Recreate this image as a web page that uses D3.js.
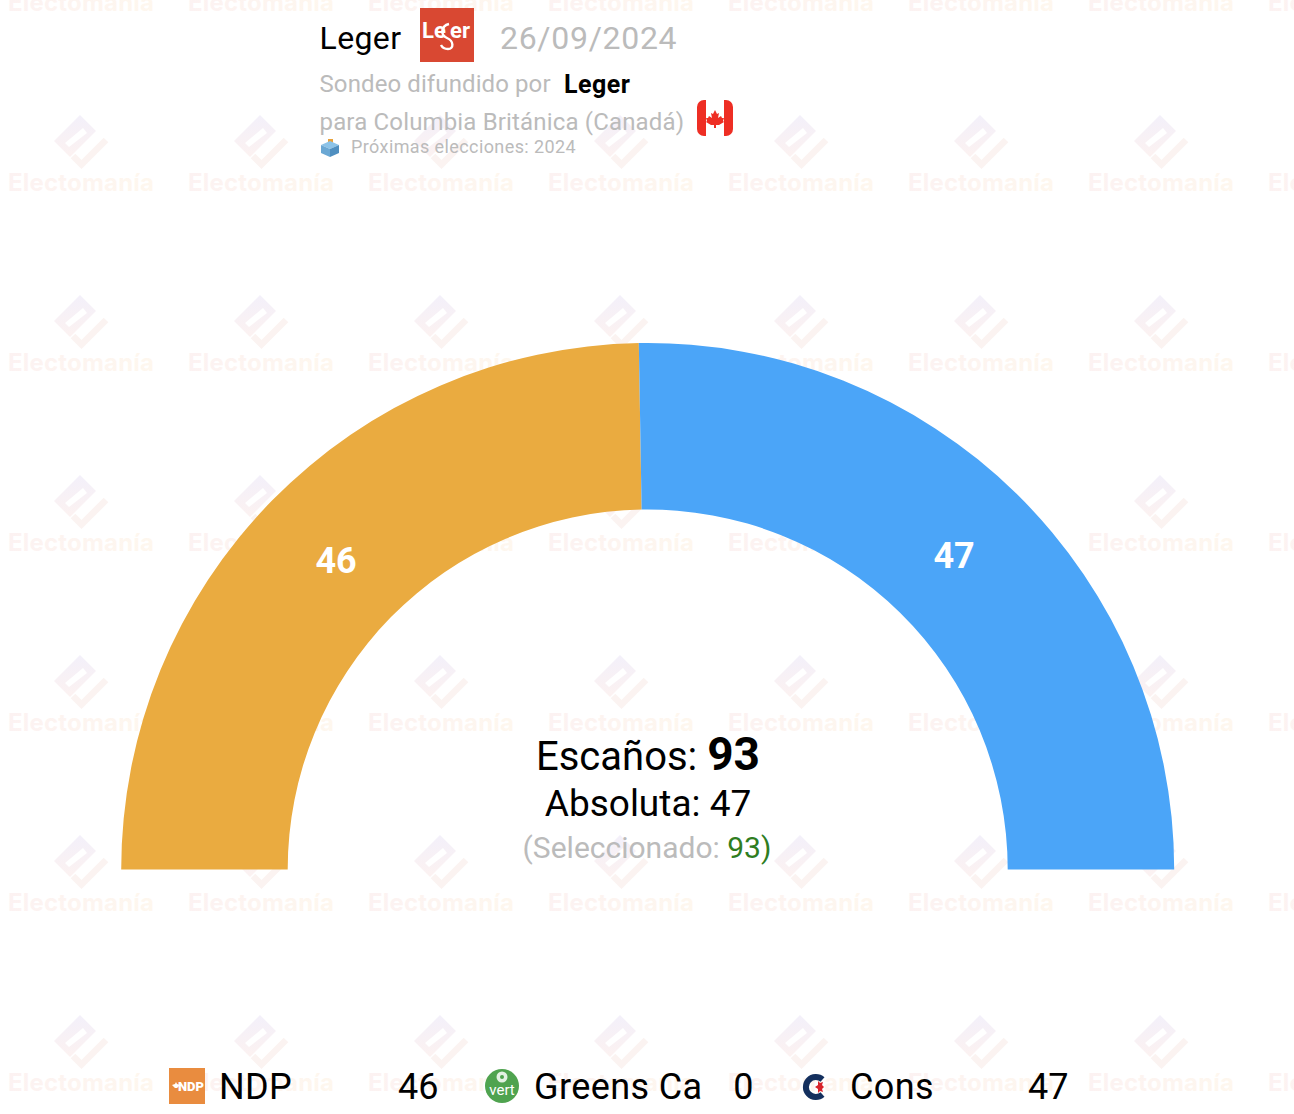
<!DOCTYPE html>
<html>
<head>
<meta charset="utf-8">
<script src="https://cdn.jsdelivr.net/npm/d3@7"></script>
<style>
  html, body { margin: 0; padding: 0; background: #fff; }
  svg { display: block; }
  text { font-family: Roboto, sans-serif; }
</style>
</head>
<body>
<div id="chart"></div>
<script>
var parties = ["NDP", "Greens Ca", "Cons"];
var seats = [46, 0, 47];
var colors = ["#EAAB40", "#4BA64B", "#4BA5F8"];
var totalSeats = 93;
var majority = 47;
var selected = 93;
var pollster = "Leger";
var pollDate = "26/09/2024";
var regionLine = "para Columbia Británica (Canadá)";
var nextElection = "Próximas elecciones: 2024";

var width = 1294, height = 1114;
var cx = 647.7, cy = 869.5, outerR = 526.5, innerR = 360;

var svg = d3.select("#chart").append("svg")
  .attr("width", width)
  .attr("height", height);

var defs = svg.append("defs");
var textGrad = defs.append("linearGradient").attr("id", "wmText");
textGrad.append("stop").attr("offset", "0").attr("stop-color", "#fcf2f2");
textGrad.append("stop").attr("offset", "1").attr("stop-color", "#fef7ee");
var iconGrad = defs.append("linearGradient").attr("id", "wmIcon")
  .attr("x1", 0).attr("y1", 0).attr("x2", 0).attr("y2", 1);
iconGrad.append("stop").attr("offset", "0").attr("stop-color", "#f3f0fa");
iconGrad.append("stop").attr("offset", "1").attr("stop-color", "#fcf2f1");

// watermark tiles
var tiles = [];
d3.range(-1, 7).forEach(function(row) {
  d3.range(0, 8).forEach(function(col) {
    tiles.push({x: col * 180, y: row * 180 + 100});
  });
});
var wm = svg.append("g").selectAll("g")
  .data(tiles)
  .enter().append("g")
  .attr("transform", function(d) { return "translate(" + d.x + "," + d.y + ")"; });
wm.append("path")
  .attr("fill", "url(#wmIcon)")
  .attr("fill-rule", "evenodd")
  .attr("d", "M80,15 L96,31 L70,57 L54,41 Z M83,28 L65,43 L69,47 L87,33 Z");
wm.append("path")
  .attr("fill", "none")
  .attr("stroke", "#fbf3f1")
  .attr("stroke-width", 6.5)
  .attr("d", "M106,40 L81.5,64.5 L73,56");
wm.append("text")
  .attr("x", 8)
  .attr("y", 91)
  .attr("font-size", 24)
  .attr("font-weight", 700)
  .attr("letter-spacing", 0.2)
  .attr("fill", "url(#wmText)")
  .style("font-family", "Inter, sans-serif")
  .text("Electomanía");

// hemicycle
var slices = d3.pie()
  .sort(null)
  .startAngle(-Math.PI / 2)
  .endAngle(Math.PI / 2)(seats);
var arc = d3.arc().innerRadius(innerR).outerRadius(outerR);
var labelArc = d3.arc().innerRadius(437).outerRadius(437);

var hemi = svg.append("g").attr("transform", "translate(" + cx + "," + cy + ")");
hemi.selectAll("path")
  .data(slices)
  .enter().append("path")
  .attr("d", arc)
  .attr("fill", function(d, i) { return colors[i]; });
hemi.selectAll("text")
  .data(slices.filter(function(d) { return d.value > 0; }))
  .enter().append("text")
  .attr("transform", function(d) {
    var c = labelArc.centroid(d);
    return "translate(" + c[0] + "," + (c[1] + 10) + ")";
  })
  .attr("text-anchor", "middle")
  .attr("font-size", 36)
  .attr("font-weight", 700)
  .attr("fill", "#fff")
  .text(function(d) { return d.value; });

// center texts
var center = svg.append("g");
var t1 = center.append("text").attr("x", 648).attr("y", 770).attr("text-anchor", "middle").attr("fill", "#000");
t1.append("tspan").attr("font-size", 40).text("Escaños: ");
t1.append("tspan").attr("font-size", 46).attr("font-weight", 700).text(totalSeats);
center.append("text").attr("x", 648).attr("y", 816).attr("text-anchor", "middle")
  .attr("font-size", 37).attr("fill", "#000").text("Absoluta: " + majority);
var t3 = center.append("text").attr("x", 647).attr("y", 858).attr("text-anchor", "middle")
  .attr("font-size", 30).attr("fill", "#bbb");
t3.append("tspan").text("(Seleccionado: ");
t3.append("tspan").attr("fill", "#2f7d1f").text(selected);
t3.append("tspan").attr("fill", "#2f7d1f").text(")");

// header
var head = svg.append("g");
head.append("text").attr("x", 319.5).attr("y", 49).attr("font-size", 32).attr("letter-spacing", 0.4).attr("fill", "#000").text(pollster);
head.append("rect").attr("x", 420).attr("y", 8).attr("width", 54).attr("height", 54).attr("fill", "#D94832");
head.append("text").attr("x", 422).attr("y", 38).attr("font-size", 22).attr("font-weight", 700)
  .attr("fill", "#fff").text("Le");
head.append("text").attr("x", 450).attr("y", 38).attr("font-size", 22).attr("font-weight", 700)
  .attr("fill", "#fff").text("er");
head.append("path").attr("fill", "none").attr("stroke", "#fff").attr("stroke-width", 2.4)
  .attr("d", "M449,24 C441,26 440,35 447,38 C454,41 454,49 448,49 C444,49 442,47 441,45");
head.append("text").attr("x", 500).attr("y", 49).attr("font-size", 32).attr("letter-spacing", 0.7)
  .attr("fill", "#bbb").text(pollDate);
head.append("text").attr("x", 319.5).attr("y", 92).attr("font-size", 24).attr("letter-spacing", 0.1).attr("fill", "#bbb").text("Sondeo difundido por");
head.append("text").attr("x", 564).attr("y", 93).attr("font-size", 25).attr("letter-spacing", 0.5).attr("font-weight", 700).attr("fill", "#000").text(pollster);
head.append("text").attr("x", 319.5).attr("y", 130).attr("font-size", 24).attr("letter-spacing", 0.16).attr("fill", "#bbb").text(regionLine);
head.append("text").attr("x", 351).attr("y", 153).attr("font-size", 18).attr("letter-spacing", 0.4).attr("fill", "#bbb").text(nextElection);

// canada flag
var flag = head.append("g").attr("transform", "translate(697,100)");
flag.append("rect").attr("width", 36).attr("height", 36).attr("rx", 7).attr("fill", "#EE2E24");
flag.append("rect").attr("x", 9).attr("width", 18).attr("height", 36).attr("fill", "#fff");
flag.append("path").attr("fill", "#EE2E24")
  .attr("d", "M18,10 L20,14 L22,13 L21,18 L24,16 L25,18 L27,18 L26,21 L27,22 L22,25 L19,25 L19,28 L17,28 L17,25 L14,25 L9,22 L10,21 L9,18 L11,18 L12,16 L15,18 L14,13 L16,14 Z");

// ballot box
var box = head.append("g").attr("transform", "translate(321,139)");
box.append("rect").attr("x", 7).attr("y", 0).attr("width", 5).attr("height", 6).attr("fill", "#E8A23C");
box.append("path").attr("fill", "#8CC3E8").attr("d", "M0,6 L9,2 L18,6 L9,10 Z");
box.append("path").attr("fill", "#6BA8D4").attr("d", "M0,6 L9,10 L9,18 L0,14 Z");
box.append("path").attr("fill", "#4F8FC0").attr("d", "M18,6 L9,10 L9,18 L18,14 Z");

// legend
var legendX = [219, 534, 850];
var valueRight = [438.5, 753.5, 1068.5];
var legend = svg.append("g").selectAll("g")
  .data(parties)
  .enter().append("g");
legend.append("text")
  .attr("x", function(d, i) { return legendX[i]; })
  .attr("y", 1099)
  .attr("font-size", 36)
  .attr("letter-spacing", 0.4)
  .attr("fill", "#000")
  .text(function(d) { return d; });
legend.append("text")
  .attr("x", function(d, i) { return valueRight[i]; })
  .attr("y", 1099)
  .attr("text-anchor", "end")
  .attr("font-size", 36)
  .attr("fill", "#000")
  .text(function(d, i) { return seats[i]; });

// NDP logo
var ndp = svg.append("g").attr("transform", "translate(169,1068)");
ndp.append("rect").attr("width", 36).attr("height", 36).attr("fill", "#E98C3F");
ndp.append("text").attr("x", 22).attr("y", 23).attr("text-anchor", "middle")
  .attr("font-size", 13).attr("font-weight", 900).attr("fill", "#fff").text("NDP");
ndp.append("path").attr("fill", "#fff").attr("d", "M3,17 L6,16 L7,14 L8,16 L11,17 L8,20 L6,20 Z");

// Greens logo
var vert = svg.append("g").attr("transform", "translate(502,1086)");
vert.append("circle").attr("r", 17).attr("fill", "#4FA34F");
vert.append("circle").attr("cy", -9).attr("r", 5.5).attr("fill", "#e2f1e2");
vert.append("circle").attr("cy", -9).attr("r", 2).attr("fill", "#4FA34F");
vert.append("text").attr("y", 9).attr("text-anchor", "middle").attr("font-size", 15).attr("fill", "#fff").text("vert");

// Cons logo
var cons = svg.append("g").attr("transform", "translate(815,1087)");
cons.append("path").attr("fill", "none").attr("stroke", "#14305E").attr("stroke-width", 6)
  .attr("d", "M7.5,-7.5 A10,10 0 1 0 7.5,7.5");
cons.append("path").attr("fill", "#D8232A").attr("d", "M3,-6 L5,-4 L8,-5 L7,-2 L9,0 L7,2 L8,5 L5,4 L3,6 L3,2 L0,0 L3,-2 Z");
</script>
</body>
</html>
